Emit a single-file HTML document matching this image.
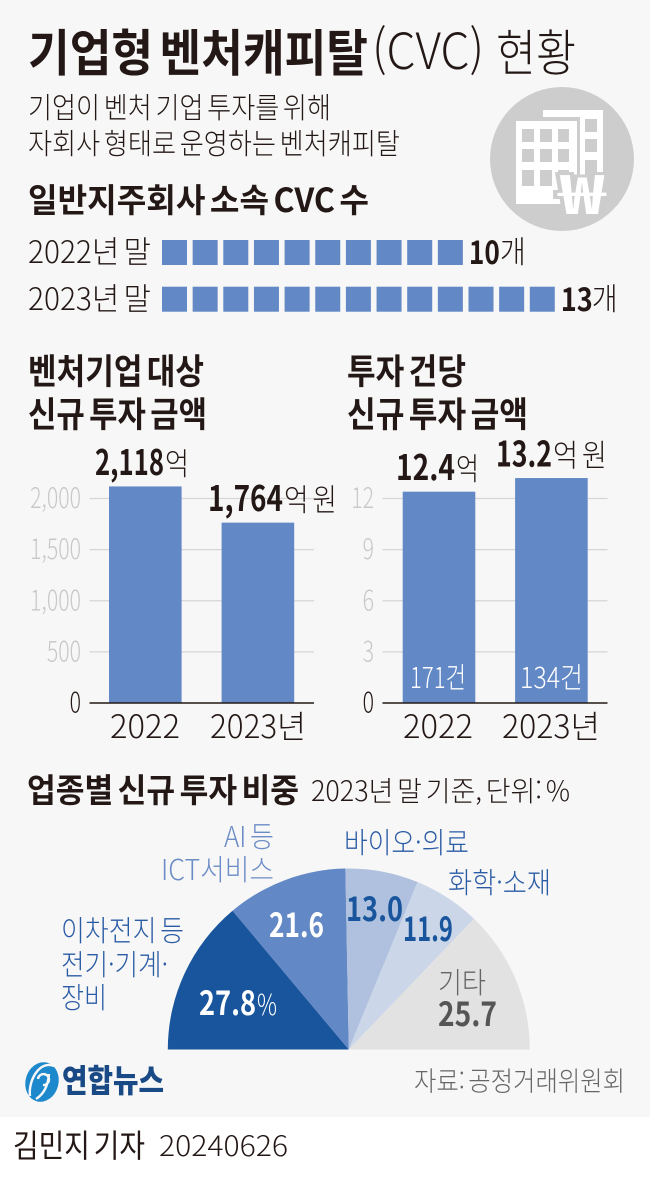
<!DOCTYPE html>
<html lang="ko">
<head>
<meta charset="utf-8">
<title>기업형 벤처캐피탈(CVC) 현황</title>
<style>
html,body{margin:0;padding:0;background:#fff;}
svg{display:block;}
text{font-family:"Liberation Sans","Noto Sans CJK KR",sans-serif;fill:#231815;word-spacing:-0.14em;}
.k{font-family:"Noto Sans CJK KR","Liberation Sans",sans-serif;}
.l{font-weight:300;}
.b{font-weight:700;}
</style>
</head>
<body>
<svg id="page" xmlns="http://www.w3.org/2000/svg" width="650" height="1179" viewBox="0 0 650 1179">
  <rect x="0" y="0" width="650" height="1117" fill="#f7f7f7"/>

  <text class="k b" x="28" y="71" font-size="50" textLength="340" lengthAdjust="spacingAndGlyphs">기업형 벤처캐피탈</text>
  <text class="k l" x="372" y="69" font-size="50" textLength="112" lengthAdjust="spacingAndGlyphs">(CVC)</text>
  <text class="k l" x="496" y="71" font-size="50" textLength="80" lengthAdjust="spacingAndGlyphs">현황</text>

  <text class="k l" x="28" y="118" font-size="29" textLength="303" lengthAdjust="spacingAndGlyphs">기업이 벤처 기업 투자를 위해</text>
  <text class="k l" x="28" y="154" font-size="29" textLength="372" lengthAdjust="spacingAndGlyphs">자회사 형태로 운영하는 벤처캐피탈</text>

  <g>
    <circle cx="562" cy="159" r="72" fill="#cdcdce"/>
    <rect x="543" y="110" width="60" height="7" fill="#fff"/>
    <rect x="580" y="110" width="23" height="84" fill="#fff"/>
    <rect x="585" y="119" width="12" height="13" fill="#cdcdce"/>
    <rect x="585" y="139" width="12" height="13" fill="#cdcdce"/>
    <rect x="585" y="160" width="12" height="15" fill="#cdcdce"/>
    <rect x="516" y="121" width="61" height="83" fill="#fff"/>
    <g fill="#cdcdce">
      <rect x="522" y="129" width="12" height="13"/><rect x="540" y="129" width="12" height="13"/><rect x="558" y="129" width="11" height="13"/>
      <rect x="522" y="149" width="12" height="13"/><rect x="540" y="149" width="12" height="13"/><rect x="558" y="149" width="11" height="13"/>
      <rect x="522" y="170" width="12" height="16"/><rect x="540" y="170" width="12" height="16"/><rect x="558" y="170" width="11" height="16"/>
    </g>
    <text class="k b" x="559" y="214" font-size="54" textLength="46" lengthAdjust="spacingAndGlyphs" style="fill:#fff;stroke:#cdcdce;stroke-width:6px;paint-order:stroke;">₩</text>
  </g>

  <text class="k b" x="28" y="212" font-size="33" textLength="341" lengthAdjust="spacingAndGlyphs">일반지주회사 소속 CVC 수</text>
  <text class="k l" x="28" y="263" font-size="31" textLength="123" lengthAdjust="spacingAndGlyphs">2022년 말</text>
  <text class="k l" x="28" y="310" font-size="31" textLength="123" lengthAdjust="spacingAndGlyphs">2023년 말</text>
  <g id="squares"></g>
  <text id="count-0" class="k b" y="264" font-size="32" textLength="31" lengthAdjust="spacingAndGlyphs">10</text>
  <text id="count-unit-0" class="k l" y="263" font-size="31" textLength="26" lengthAdjust="spacingAndGlyphs">개</text>
  <text id="count-1" class="k b" y="311" font-size="32" textLength="32" lengthAdjust="spacingAndGlyphs">13</text>
  <text id="count-unit-1" class="k l" y="310" font-size="31" textLength="26" lengthAdjust="spacingAndGlyphs">개</text>

  <text class="k b" x="28" y="384" font-size="35" textLength="176" lengthAdjust="spacingAndGlyphs">벤처기업 대상</text>
  <text class="k b" x="28" y="427" font-size="35" textLength="179" lengthAdjust="spacingAndGlyphs">신규 투자 금액</text>
  <text class="k b" x="347" y="384" font-size="35" textLength="119" lengthAdjust="spacingAndGlyphs">투자 건당</text>
  <text class="k b" x="347" y="427" font-size="35" textLength="181" lengthAdjust="spacingAndGlyphs">신규 투자 금액</text>

  <g id="left-chart"></g>
  <g id="right-chart"></g>

  <g id="left-value-0">
    <text class="k b" x="95" font-size="35" textLength="69" lengthAdjust="spacingAndGlyphs">2,118</text>
    <text class="k l" x="165" font-size="31" textLength="24" lengthAdjust="spacingAndGlyphs">억</text>
  </g>
  <g id="left-value-1">
    <text class="k b" x="208" font-size="35" textLength="75" lengthAdjust="spacingAndGlyphs">1,764</text>
    <text class="k l" x="284" font-size="31" textLength="53" lengthAdjust="spacingAndGlyphs">억 원</text>
  </g>
  <g id="right-value-0">
    <text class="k b" x="396" font-size="35" textLength="59" lengthAdjust="spacingAndGlyphs">12.4</text>
    <text class="k l" x="456" font-size="31" textLength="23" lengthAdjust="spacingAndGlyphs">억</text>
  </g>
  <g id="right-value-1">
    <text class="k b" x="496" font-size="35" textLength="56" lengthAdjust="spacingAndGlyphs">13.2</text>
    <text class="k l" x="553" font-size="31" textLength="54" lengthAdjust="spacingAndGlyphs">억 원</text>
  </g>

  <text class="k l" x="110" y="738" font-size="32" textLength="70" lengthAdjust="spacingAndGlyphs">2022</text>
  <text class="k l" x="210" y="738" font-size="32" textLength="96" lengthAdjust="spacingAndGlyphs">2023년</text>
  <text class="k l" x="403" y="738" font-size="32" textLength="70" lengthAdjust="spacingAndGlyphs">2022</text>
  <text class="k l" x="502" y="738" font-size="32" textLength="98" lengthAdjust="spacingAndGlyphs">2023년</text>
  <text class="k l" x="410" y="688" font-size="29" textLength="56" lengthAdjust="spacingAndGlyphs" style="fill:#fff">171건</text>
  <text class="k l" x="520" y="688" font-size="29" textLength="63" lengthAdjust="spacingAndGlyphs" style="fill:#fff">134건</text>

  <text class="k b" x="27" y="802" font-size="33" textLength="272" lengthAdjust="spacingAndGlyphs">업종별 신규 투자 비중</text>
  <text class="k l" x="311" y="801" font-size="28" textLength="259" lengthAdjust="spacingAndGlyphs">2023년 말 기준, 단위: %</text>

  <g id="pie"></g>

  <text class="k l" x="224" y="847" font-size="29" textLength="50" lengthAdjust="spacingAndGlyphs" style="fill:#6b8cc6">AI 등</text>
  <text class="k l" x="161" y="880" font-size="29" textLength="113" lengthAdjust="spacingAndGlyphs" style="fill:#6b8cc6">ICT서비스</text>
  <text class="k l" x="344" y="853" font-size="29" textLength="125" lengthAdjust="spacingAndGlyphs" style="fill:#2a5ba5">바이오·의료</text>
  <text class="k l" x="448" y="893" font-size="29" textLength="103" lengthAdjust="spacingAndGlyphs" style="fill:#2a5ba5">화학·소재</text>
  <text class="k l" x="61" y="941" font-size="29" textLength="123" lengthAdjust="spacingAndGlyphs" style="fill:#2a5ba5">이차전지 등</text>
  <text class="k l" x="61" y="975" font-size="29" textLength="107" lengthAdjust="spacingAndGlyphs" style="fill:#2a5ba5">전기·기계·</text>
  <text class="k l" x="61" y="1008" font-size="29" textLength="46" lengthAdjust="spacingAndGlyphs" style="fill:#2a5ba5">장비</text>

  <text id="pie-val-0" class="k b" x="199" y="1015" font-size="33" textLength="57" lengthAdjust="spacingAndGlyphs" style="fill:#fff">27.8</text>
  <text class="k l" x="257" y="1015" font-size="29" textLength="20" lengthAdjust="spacingAndGlyphs" style="fill:#fff">%</text>
  <text id="pie-val-1" class="k b" x="269" y="937" font-size="33" textLength="55" lengthAdjust="spacingAndGlyphs" style="fill:#fff">21.6</text>
  <text id="pie-val-2" class="k b" x="346" y="921" font-size="33" textLength="57" lengthAdjust="spacingAndGlyphs" style="fill:#18559c">13.0</text>
  <text id="pie-val-3" class="k b" x="403" y="941" font-size="33" textLength="50" lengthAdjust="spacingAndGlyphs" style="fill:#18559c">11.9</text>
  <text class="k l" x="438" y="993" font-size="29" textLength="48" lengthAdjust="spacingAndGlyphs" style="fill:#666">기타</text>
  <text id="pie-val-4" class="k b" x="438" y="1026" font-size="33" textLength="59" lengthAdjust="spacingAndGlyphs" style="fill:#555">25.7</text>

  <g>
    <ellipse cx="42" cy="1082" rx="16.5" ry="20" transform="rotate(15 42 1082)" fill="#1e88cc"/>
    <path d="M54 1066 C40 1060 28 1080 30 1096 M38 1079 a5.5 5.5 0 1 1 5 6 M49 1074 C48 1086 44 1094 36 1099" fill="none" stroke="#f7f7f7" stroke-width="2.4"/>
    <text class="k b" x="62" y="1092" font-size="32" textLength="102" lengthAdjust="spacingAndGlyphs" style="fill:#1a4a85;font-weight:900">연합뉴스</text>
  </g>
  <text class="k l" x="414" y="1091" font-size="27" textLength="211" lengthAdjust="spacingAndGlyphs" style="fill:#666">자료: 공정거래위원회</text>

  <text class="k" x="13" y="1157" font-size="32" textLength="132" lengthAdjust="spacingAndGlyphs">김민지 기자</text>
  <text class="k l" x="159" y="1156" font-size="28" textLength="129" lengthAdjust="spacingAndGlyphs">20240626</text>
</svg>

<script>
const SVGNS = 'http://www.w3.org/2000/svg';

// CVC counts
const countYears = ['2022', '2023'];
const countValues = [10, 13];

// Total new investment (억 원)
const totalCategories = ['2022', '2023'];
const totalValues = [2118, 1764];
const totalTicks = [0, 500, 1000, 1500, 2000];
const totalTickLabels = ['0', '500', '1,000', '1,500', '2,000'];
const totalValueLabels = ['2,118', '1,764'];

// Investment per deal (억 원)
const perDealCategories = ['2022', '2023'];
const perDealValues = [12.4, 13.2];
const perDealTicks = [0, 3, 6, 9, 12];
const perDealTickLabels = ['0', '3', '6', '9', '12'];
const perDealValueLabels = ['12.4', '13.2'];

// Industry share (%)
const shareCategories = ['이차전지 등 전기·기계·장비', 'AI 등 ICT서비스', '바이오·의료', '화학·소재', '기타'];
const shareValues = [27.8, 21.6, 13.0, 11.9, 25.7];
const shareLabels = ['27.8', '21.6', '13.0', '11.9', '25.7'];

function el(tag, attrs, parent) {
  const node = document.createElementNS(SVGNS, tag);
  for (const k in attrs) node.setAttribute(k, attrs[k]);
  parent.appendChild(node);
  return node;
}

/* pictogram squares */
const squaresGroup = document.getElementById('squares');
const squareX = i => 162 + i * 30.65;
const rowTop = r => 240 + r * 46.7;
countValues.forEach((count, r) => {
  for (let i = 0; i < count; i++) {
    const sq = el('rect', {x: squareX(i), y: rowTop(r), width: 25, height: 25, fill: '#6288c5'}, squaresGroup);
    
    
  }
  const endX = squareX(count - 1) + 25;
  document.getElementById('count-' + r).textContent = String(count);
  document.getElementById('count-' + r).setAttribute('x', endX + 6);
  document.getElementById('count-unit-' + r).setAttribute('x', endX + 37);
});

/* bar charts */
function drawBars(opts) {
  const group = document.getElementById(opts.groupId);
  const baseY = 703;
  const topTick = opts.ticks[opts.ticks.length - 1];
  const yScale = v => baseY - (v / topTick) * 204.5;
  const xScale = i => opts.firstBarX + i * opts.barStep;

  opts.ticks.forEach((t, i) => {
    if (t !== 0) {
      const grid = el('line', {x1: opts.axisX1, x2: opts.axisX2, y1: yScale(t), y2: yScale(t), stroke: '#d6d6d6', 'stroke-width': 1.3}, group);
      
      
    }
    const label = el('text', {
      class: 'k l',
      'text-anchor': 'end',
      transform: 'translate(' + opts.tickRight + ',' + (yScale(t) + 9.5) + ') scale(0.76,1)',
      'font-size': 28
    }, group);
    
    
    label.style.fill = t === 0 ? '#231815' : '#c8c8c8';
    label.textContent = opts.tickLabels[i];
  });

  opts.values.forEach((v, i) => {
    const bar = el('rect', {x: xScale(i), y: yScale(v), width: 72.6, height: baseY - yScale(v), fill: '#6288c5'}, group);
    
    
    const valueGroup = document.getElementById(opts.valuePrefix + i);
    valueGroup.setAttribute('transform', 'translate(0,' + (yScale(v) - 11.5) + ')');
    valueGroup.querySelector('text').textContent = opts.valueLabels[i];
  });

  const axis = el('line', {x1: opts.axisX1, x2: opts.axisX2, y1: baseY, y2: baseY, stroke: '#231815', 'stroke-width': 1.6}, group);
  
  
}

drawBars({
  groupId: 'left-chart', valuePrefix: 'left-value-',
  categories: totalCategories, values: totalValues, ticks: totalTicks,
  tickLabels: totalTickLabels, valueLabels: totalValueLabels,
  firstBarX: 109, barStep: 112.6, axisX1: 89.5, axisX2: 314, tickRight: 81
});
drawBars({
  groupId: 'right-chart', valuePrefix: 'right-value-',
  categories: perDealCategories, values: perDealValues, ticks: perDealTicks,
  tickLabels: perDealTickLabels, valueLabels: perDealValueLabels,
  firstBarX: 402.7, barStep: 112.4, axisX1: 382.5, axisX2: 607.5, tickRight: 374
});

/* half pie */
const pieGroup = document.getElementById('pie');
const pieColors = ['#18559c', '#6288c5', '#afc1de', '#cbd6e9', '#e2e2e2'];
const pieCx = 348.8, pieCy = 1049.5, pieR = 181;
const shareTotal = shareValues.reduce((a, b) => a + b, 0);
const polar = a => [pieCx - pieR * Math.cos(a), pieCy - pieR * Math.sin(a)];
let cumulative = 0;
shareValues.forEach((v, i) => {
  const a0 = (cumulative / shareTotal) * Math.PI;
  cumulative += v;
  const a1 = (cumulative / shareTotal) * Math.PI;
  const p0 = polar(a0), p1 = polar(a1);
  const slice = el('path', {
    d: 'M' + pieCx + ' ' + pieCy + ' L' + p0[0] + ' ' + p0[1] + ' A' + pieR + ' ' + pieR + ' 0 0 1 ' + p1[0] + ' ' + p1[1] + ' Z',
    fill: pieColors[i]
  }, pieGroup);
  
  
  slice.setAttribute('aria-label', shareCategories[i]);
  document.getElementById('pie-val-' + i).textContent = shareLabels[i];
});
</script>
</body>
</html>
